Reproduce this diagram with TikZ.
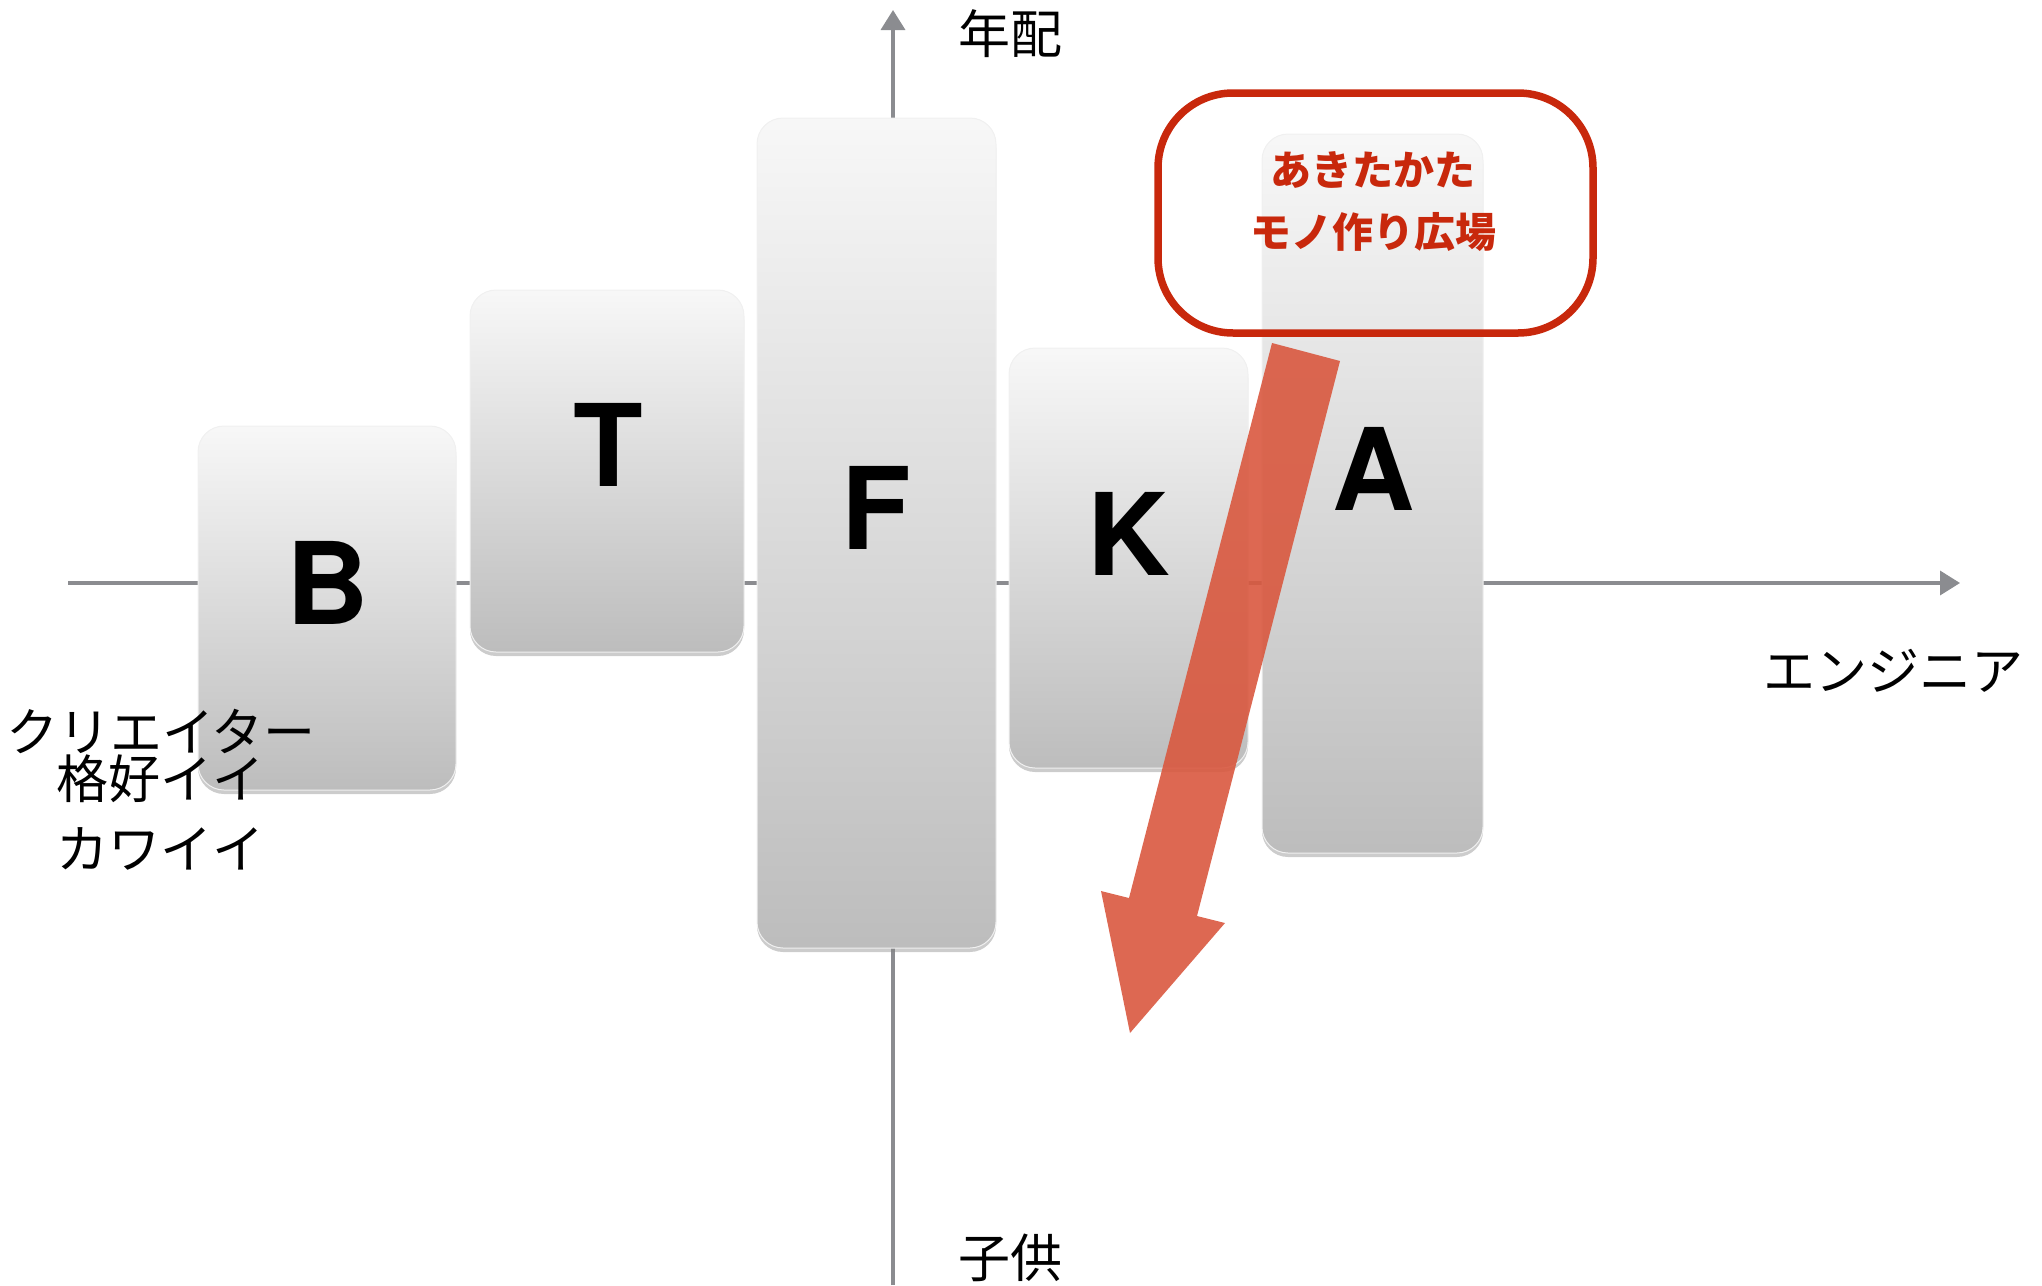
\documentclass[tikz,border=0pt]{standalone}
\usepackage{fontspec}
\setmainfont{TeX Gyre Heros}
\newfontfamily\jp{Noto Sans CJK JP}
\usetikzlibrary{arrows.meta,shadows}
\definecolor{axisgray}{HTML}{8B8C90}
\definecolor{akired}{HTML}{C8280C}
\definecolor{arrowred}{HTML}{D9583F}
\tikzset{
 card/.style={rectangle, rounded corners=26pt, top color=black!3, bottom color=black!26, draw=black!6, line width=1pt, drop shadow={opacity=0.4, shadow xshift=0pt, shadow yshift=-4pt}, inner sep=0pt},
 axisline/.style={draw=axisgray, line width=3.5pt, -{Triangle[length=20pt,width=24pt]}},
 letter/.style={inner sep=0pt, font=\fontsize{114}{114}\selectfont\bfseries},
 jplabel/.style={inner sep=0pt, font=\jp\fontsize{52}{60}\selectfont},
 redlabel/.style={inner sep=0pt, text=akired, font=\jp\bfseries\fontsize{41}{50}\selectfont},
 redframe/.style={draw=akired, line width=7.5pt, rounded corners=75pt, rectangle, inner sep=0pt},
 bigarrow/.style={fill=arrowred, fill opacity=0.9, draw=none}
}
\begin{document}
\begin{tikzpicture}[x=1pt,y=-1pt]
\useasboundingbox (0,0) rectangle (2042,1285);
% axes
\coordinate (xl) at (68,583);
\coordinate (xr) at (1960,583);
\coordinate (yb) at (893,1285);
\coordinate (yt) at (893,10);
\draw[axisline] (xl) -- (xr);
\draw[axisline] (yb) -- (yt);
% cards
\node[card, minimum width=258pt, minimum height=364pt] (bB) at (327,608) {};
\node[card, minimum width=274pt, minimum height=362pt] (bT) at (607,471) {};
\node[card, minimum width=239pt, minimum height=830pt] (bF) at (876.5,533) {};
\node[card, minimum width=239pt, minimum height=420pt] (bK) at (1128.5,558) {};
\node[card, minimum width=221pt, minimum height=719pt] (bA) at (1372.5,493.5) {};
% letters
\node[letter] (lB) at (328,583) {B};
\node[letter] (lT) at (608,445) {T};
\node[letter] (lF) at (876,508) {F};
\node[letter] (lK) at (1129,534) {K};
\node[letter] (lA) at (1374,469) {A};
% labels
\node[jplabel] (senior) at (1010,34) {年配};
\node[jplabel] (child) at (1010,1258) {子供};
\node[jplabel] (eng) at (1893,671) {エンジニア};
\node[jplabel] (cre) at (161,731) {クリエイター};
\node[jplabel] (kak) at (160,779) {格好イイ};
\node[jplabel] (kaw) at (160,849) {カワイイ};
% red frame and text
\node[redframe, minimum width=435pt, minimum height=240pt] (frame) at (1375.5,213) {};
\node[redlabel] (t1) at (1373,170) {あきたかた};
\node[redlabel] (t2) at (1373,232) {モノ作り広場};
% big arrow
\coordinate (a1) at (1272,343);
\coordinate (a2) at (1340,361);
\coordinate (a3) at (1197,916);
\coordinate (a4) at (1225,923);
\coordinate (a5) at (1130,1033);
\coordinate (a6) at (1101,891);
\coordinate (a7) at (1129,898);
\fill[bigarrow] (a1) -- (a2) -- (a3) -- (a4) -- (a5) -- (a6) -- (a7) -- cycle;
\end{tikzpicture}
\end{document}
